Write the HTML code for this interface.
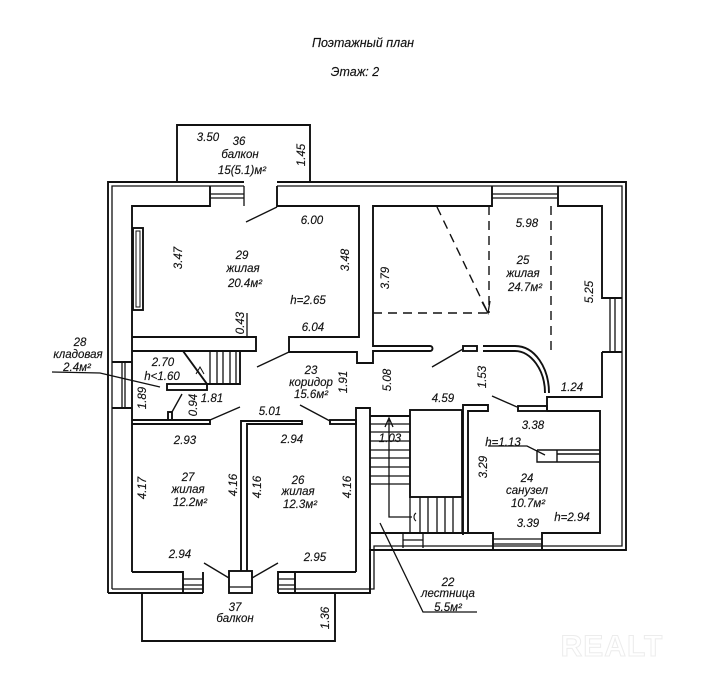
<!DOCTYPE html>
<html><head><meta charset="utf-8"><style>
html,body{margin:0;padding:0;background:#fff;}
svg{display:block;}
text{font-family:"Liberation Sans","DejaVu Sans",sans-serif;font-style:italic;font-size:11.5px;fill:#111;stroke:#111;stroke-width:0.15;text-anchor:middle;}
.t{font-size:12.5px;}
</style></head><body>
<svg width="721" height="698" viewBox="0 0 721 698" xmlns="http://www.w3.org/2000/svg">
<g stroke="#111" stroke-width="1.9" fill="none" stroke-linejoin="miter">
<!-- exterior outer double lines -->
<path d="M108,593 V182 H244 M277,182 H626 V550 H370 V593 H278 M203,593 H108"/>
<path d="M112,589 V186 H244 M277,186 H622 V546 H374 V589 H278 M203,589 H112" stroke-width="1.3"/>
<!-- balconies -->
<path d="M177,182 V125 H310 V182"/>
<path d="M142,593 V641 H335 V593"/>
<!-- room 29 -->
<path d="M210,186 V206 H132 V572"/>
<path d="M244,186 V206 M210,194 H244 M210,198 H244" stroke-width="1.3"/>
<path d="M277,186 V206 H359 V337 H289 V352 H357 V363 H373 V351 H430"/>
<path d="M430,346 A2.5,2.5 0 0 1 430,351"/>
<path d="M430,346 H373 V206 H492 V186"/>
<path d="M492,194 H558 M492,198 H558" stroke-width="1.3"/>
<path d="M558,186 V206 H602 V298 H622 M602,352 H622"/>
<path d="M610,298 V352 M615,298 V352" stroke-width="1.3"/>
<path d="M602,352 V397 H547 V411"/>
<!-- arc wall -->
<path d="M483,346 H515 C535,346 549,368 549,393"/>
<path d="M483,351 H515 C531,351 545,370 545,393"/>
<rect x="463" y="346" width="14" height="5"/>
<rect x="518" y="406" width="29" height="5"/>
<!-- room 24 -->
<path d="M547,411 H600 V533 H542 V550 M493,550 V533 H468 V411 H488 V405 H463 V535"/>
<path d="M493,539 H542 M493,544 H542" stroke-width="1.3"/>
<path d="M537,450 H600 M537,450 V462 H600 M557,450 V462 M557,454 H600" stroke-width="1.4"/>
<!-- closet room 29 -->
<rect x="133" y="228" width="10" height="82"/>
<rect x="136" y="231" width="4" height="76" stroke-width="1"/>
<!-- wall between 29 and kladovaya -->
<path d="M132,337 H256 V351 H132"/>
<path d="M247,313 V337" stroke-width="1.3"/>
<!-- kladovaya stair -->
<path d="M183,351 L207,384 H240 V351"/>
<path d="M210,351 V384 M217,351 V384 M223,351 V384 M230,351 V384 M236,351 V384" stroke-width="1.3"/>
<path d="M196,374 L200,367 L204,374" stroke-width="1"/>
<rect x="167" y="384" width="40" height="6"/>
<rect x="168" y="412" width="4" height="8"/>
<path d="M182,394 L172,412" stroke-width="1.4"/>
<!-- kladovaya window -->
<path d="M112,362 H132 M112,408 H132"/>
<path d="M122,362 V408 M125,362 V408" stroke-width="1.3"/>
<!-- walls above rooms 27/26 -->
<path d="M132,420 H210 V424 H132"/>
<path d="M241,571 V421 H302 V424 H247 V571"/>
<rect x="330" y="420" width="26" height="4"/>
<!-- door swings -->
<path d="M277,207 L246,222 M289,352 L257,367 M210,420 L240,407 M300,405 L330,421 M463,349 L432,367 M492,396 L517,407 M204,563 L229,578 M252,578 L278,563" stroke-width="1.4"/>
<!-- rooms 27/26 bottom -->
<path d="M132,572 H183 V593 M203,593 V572"/>
<path d="M183,579 H203 M183,585 H203" stroke-width="1.3"/>
<rect x="229" y="571" width="23" height="22"/>
<path d="M229,587 H252" stroke-width="1.3"/>
<path d="M278,593 V572 H356 M295,572 V593"/>
<path d="M278,579 H295 M278,585 H295" stroke-width="1.3"/>
<!-- stair well -->
<path d="M356,572 V408 H370 V593"/>
<path d="M370,416 H410"/>
<rect x="410" y="410" width="52" height="87"/>
<path d="M370,424 H410 M370,432 H410 M370,441 H410 M370,450 H410 M370,458 H410 M370,467 H410 M370,476 H410 M370,484 H410" stroke-width="1.3"/>
<path d="M410,497 V533 M462,497 V533 M420,497 V533 M428,497 V533 M437,497 V533 M445,497 V533 M453,497 V533" stroke-width="1.3"/>
<path d="M370,533 H468"/>
<path d="M403,533 V548 M423,533 V548 M403,540 H423" stroke-width="1.3"/>
<path d="M389,420 V517 H412 M385,427 L389,418 L393,427" stroke-width="1.3"/>
<path d="M416,513 A5,5 0 0 0 416,521" stroke-width="1.1"/>
<!-- dashed lines room 25 -->
<path d="M489,206 V313 M373,313 H489 M437,207 L488,313 M551,206 V350" stroke-dasharray="9 6" stroke-width="1.4"/>
<path d="M482,302 L488,313 L490,301" stroke-width="1.3"/>
<!-- leaders -->
<path d="M52,372 L100,373 L160,387 M380,523 L423,612 H477 M488,446 H527 L545,455" stroke-width="1.3"/>
</g>
<!-- watermark -->
<text x="612" y="656" style="font-size:30px;font-style:normal;font-weight:bold;fill:none;stroke:#ececec;stroke-width:1;letter-spacing:1px">REALT</text>
<!-- title -->
<text class="t" x="363" y="47">Поэтажный план</text>
<text class="t" x="355" y="76">Этаж: 2</text>
<!-- balcony 36 -->
<text x="208" y="141">3.50</text>
<text x="239" y="145">36</text>
<text x="240" y="158">балкон</text>
<text x="242" y="174">15(5.1)м²</text>
<text x="301" y="159" transform="rotate(-90 301 155)">1.45</text>
<!-- room 29 -->
<text x="312" y="224">6.00</text>
<text x="178" y="262" transform="rotate(-90 178 258)">3.47</text>
<text x="242" y="259">29</text>
<text x="243" y="272">жилая</text>
<text x="245" y="287">20.4м²</text>
<text x="345" y="264" transform="rotate(-90 345 260)">3.48</text>
<text x="308" y="304">h=2.65</text>
<text x="313" y="331">6.04</text>
<text x="240" y="327" transform="rotate(-90 240 323)">0.43</text>
<!-- room 25 -->
<text x="527" y="227">5.98</text>
<text x="523" y="264">25</text>
<text x="523" y="277">жилая</text>
<text x="525" y="291">24.7м²</text>
<text x="385" y="282" transform="rotate(-90 385 278)">3.79</text>
<text x="589" y="296" transform="rotate(-90 589 292)">5.25</text>
<text x="387" y="384" transform="rotate(-90 387 380)">5.08</text>
<text x="482" y="381" transform="rotate(-90 482 377)">1.53</text>
<text x="572" y="391">1.24</text>
<text x="443" y="402">4.59</text>
<!-- 28 -->
<text x="80" y="346">28</text>
<text x="78" y="358">кладовая</text>
<text x="77" y="371">2.4м²</text>
<text x="163" y="366">2.70</text>
<text x="162" y="380">h&lt;1.60</text>
<text x="142" y="402" transform="rotate(-90 142 398)">1.89</text>
<text x="193" y="409" transform="rotate(-90 193 405)">0.94</text>
<text x="212" y="402">1.81</text>
<text x="270" y="415">5.01</text>
<text x="311" y="374">23</text>
<text x="311" y="386">коридор</text>
<text x="311" y="398">15.6м²</text>
<text x="343" y="386" transform="rotate(-90 343 382)">1.91</text>
<!-- room 27 -->
<text x="185" y="444">2.93</text>
<text x="188" y="481">27</text>
<text x="188" y="493">жилая</text>
<text x="190" y="506">12.2м²</text>
<text x="142" y="492" transform="rotate(-90 142 488)">4.17</text>
<text x="233" y="489" transform="rotate(-90 233 485)">4.16</text>
<text x="180" y="558">2.94</text>
<!-- room 26 -->
<text x="292" y="443">2.94</text>
<text x="298" y="484">26</text>
<text x="298" y="495">жилая</text>
<text x="300" y="508">12.3м²</text>
<text x="257" y="491" transform="rotate(-90 257 487)">4.16</text>
<text x="347" y="491" transform="rotate(-90 347 487)">4.16</text>
<text x="315" y="561">2.95</text>
<!-- balcony 37 -->
<text x="235" y="611">37</text>
<text x="235" y="622">балкон</text>
<text x="325" y="622" transform="rotate(-90 325 618)">1.36</text>
<!-- stairs / room 24 -->
<text x="390" y="442">1.03</text>
<text x="533" y="429">3.38</text>
<text x="503" y="446">h=1.13</text>
<text x="483" y="471" transform="rotate(-90 483 467)">3.29</text>
<text x="527" y="482">24</text>
<text x="527" y="494">санузел</text>
<text x="528" y="507">10.7м²</text>
<text x="572" y="521">h=2.94</text>
<text x="528" y="527">3.39</text>
<!-- 22 -->
<text x="448" y="586">22</text>
<text x="448" y="597">лестница</text>
<text x="448" y="611">5.5м²</text>
</svg>
</body></html>
